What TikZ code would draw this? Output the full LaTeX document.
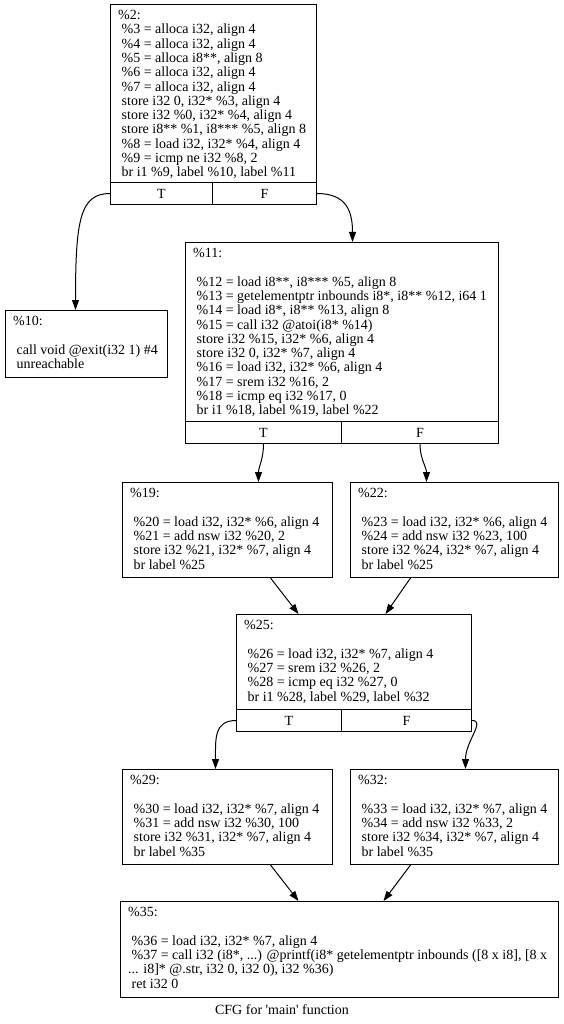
\documentclass[tikz,border=0pt]{standalone}
\usepackage{fontspec}
\setmainfont{Liberation Serif}
\usetikzlibrary{arrows.meta}
\newcommand{\Lsp}{\hspace*{3.5pt}}
\begin{document}
\begin{tikzpicture}[x=1pt,y=-1pt,
  blk/.style={draw, line width=1pt, inner sep=0pt, anchor=north west},
  txt/.style={anchor=north west, inner sep=0pt, align=left, font=\fontsize{14}{14.3}\selectfont},
  cell/.style={draw, line width=1pt, inner sep=0pt, anchor=north west, font=\fontsize{14}{14.3}\selectfont},
  flow/.style={line width=1pt, -{Triangle[length=10pt,width=7pt]}}
]
\useasboundingbox (0,0) rectangle (564,1024);

% block %2
\node[blk, minimum width=206pt, minimum height=178pt] (b2) at (110,4) {};
\node[cell, minimum width=102pt, minimum height=22pt] (b2T) at (110,182) {T};
\node[cell, minimum width=104pt, minimum height=22pt] (b2F) at (212,182) {F};
\node[txt] (b2txt) at (118,10) {\%2:\\
\Lsp\%3 = alloca i32, align 4\\
\Lsp\%4 = alloca i32, align 4\\
\Lsp\%5 = alloca i8**, align 8\\
\Lsp\%6 = alloca i32, align 4\\
\Lsp\%7 = alloca i32, align 4\\
\Lsp store i32 0, i32* \%3, align 4\\
\Lsp store i32 \%0, i32* \%4, align 4\\
\Lsp store i8** \%1, i8*** \%5, align 8\\
\Lsp\%8 = load i32, i32* \%4, align 4\\
\Lsp\%9 = icmp ne i32 \%8, 2\\
\Lsp br i1 \%9, label \%10, label \%11};

% block %10
\node[blk, minimum width=162pt, minimum height=67pt] (b10) at (5,310) {};
\node[txt] (b10txt) at (13,316) {\%10:\\ \mbox{}\\
\Lsp call void @exit(i32 1) \#4\\
\Lsp unreachable};

% block %11
\node[blk, minimum width=313pt, minimum height=179pt] (b11) at (185,242) {};
\node[cell, minimum width=156pt, minimum height=22pt] (b11T) at (185,421) {T};
\node[cell, minimum width=157pt, minimum height=22pt] (b11F) at (341,421) {F};
\node[txt] (b11txt) at (193,248) {\%11:\\ \mbox{}\\
\Lsp\%12 = load i8**, i8*** \%5, align 8\\
\Lsp\%13 = getelementptr inbounds i8*, i8** \%12, i64 1\\
\Lsp\%14 = load i8*, i8** \%13, align 8\\
\Lsp\%15 = call i32 @atoi(i8* \%14)\\
\Lsp store i32 \%15, i32* \%6, align 4\\
\Lsp store i32 0, i32* \%7, align 4\\
\Lsp\%16 = load i32, i32* \%6, align 4\\
\Lsp\%17 = srem i32 \%16, 2\\
\Lsp\%18 = icmp eq i32 \%17, 0\\
\Lsp br i1 \%18, label \%19, label \%22};

% block %19
\node[blk, minimum width=210pt, minimum height=95pt] (b19) at (122,482) {};
\node[txt] (b19txt) at (130,488) {\%19:\\ \mbox{}\\
\Lsp\%20 = load i32, i32* \%6, align 4\\
\Lsp\%21 = add nsw i32 \%20, 2\\
\Lsp store i32 \%21, i32* \%7, align 4\\
\Lsp br label \%25};

% block %22
\node[blk, minimum width=208pt, minimum height=95pt] (b22) at (350,482) {};
\node[txt] (b22txt) at (358,488) {\%22:\\ \mbox{}\\
\Lsp\%23 = load i32, i32* \%6, align 4\\
\Lsp\%24 = add nsw i32 \%23, 100\\
\Lsp store i32 \%24, i32* \%7, align 4\\
\Lsp br label \%25};

% block %25
\node[blk, minimum width=235pt, minimum height=95pt] (b25) at (236,614) {};
\node[cell, minimum width=105pt, minimum height=22pt] (b25T) at (236,709) {T};
\node[cell, minimum width=130pt, minimum height=22pt] (b25F) at (341,709) {F};
\node[txt] (b25txt) at (244,620) {\%25:\\ \mbox{}\\
\Lsp\%26 = load i32, i32* \%7, align 4\\
\Lsp\%27 = srem i32 \%26, 2\\
\Lsp\%28 = icmp eq i32 \%27, 0\\
\Lsp br i1 \%28, label \%29, label \%32};

% block %29
\node[blk, minimum width=210pt, minimum height=95pt] (b29) at (122,769) {};
\node[txt] (b29txt) at (130,775) {\%29:\\ \mbox{}\\
\Lsp\%30 = load i32, i32* \%7, align 4\\
\Lsp\%31 = add nsw i32 \%30, 100\\
\Lsp store i32 \%31, i32* \%7, align 4\\
\Lsp br label \%35};

% block %32
\node[blk, minimum width=208pt, minimum height=95pt] (b32) at (350,769) {};
\node[txt] (b32txt) at (358,775) {\%32:\\ \mbox{}\\
\Lsp\%33 = load i32, i32* \%7, align 4\\
\Lsp\%34 = add nsw i32 \%33, 2\\
\Lsp store i32 \%34, i32* \%7, align 4\\
\Lsp br label \%35};

% block %35
\node[blk, minimum width=438pt, minimum height=96pt] (b35) at (120,901) {};
\node[txt] (b35txt) at (128,907) {\%35:\\ \mbox{}\\
\Lsp\%36 = load i32, i32* \%7, align 4\\
\Lsp\%37 = call i32 (i8*, ...) @printf(i8* getelementptr inbounds ([8 x i8], [8 x\\
... i8]* @.str, i32 0, i32 0), i32 \%36)\\
\Lsp ret i32 0};

% caption
\node[font=\fontsize{14}{14.3}\selectfont, inner sep=0pt] (cap) at (282,1010) {CFG for \textquotesingle main\textquotesingle\ function};

% edges
\draw[flow] (b2T.west) .. controls +(-30,0) and +(0,-90) .. ([xshift=-11pt]b10.north);
\draw[flow] (b2F.east) .. controls +(30,0) and +(0,-30) .. ([xshift=10.5pt]b11.north);
\draw[flow] (b11T.south) .. controls +(0,15) and +(0,-15) .. ([xshift=31pt]b19.north);
\draw[flow] (b11F.south) .. controls +(0,15) and +(0,-15) .. ([xshift=-28pt]b22.north);
\draw[flow] ([xshift=43pt]b19.south) -- ([xshift=-55.5pt]b25.north);
\draw[flow] ([xshift=-44pt]b22.south) -- ([xshift=31.5pt]b25.north);
\draw[flow] (b25T.west) .. controls +(-22,0) and +(0,-30) .. ([xshift=-12pt]b29.north);
\draw[flow] (b25F.east) .. controls +(14,0) and +(0,-28) .. ([xshift=11pt]b32.north);
\draw[flow] ([xshift=43pt]b29.south) -- ([xshift=-41pt]b35.north);
\draw[flow] ([xshift=-44pt]b32.south) -- ([xshift=44pt]b35.north);
\end{tikzpicture}
\end{document}
